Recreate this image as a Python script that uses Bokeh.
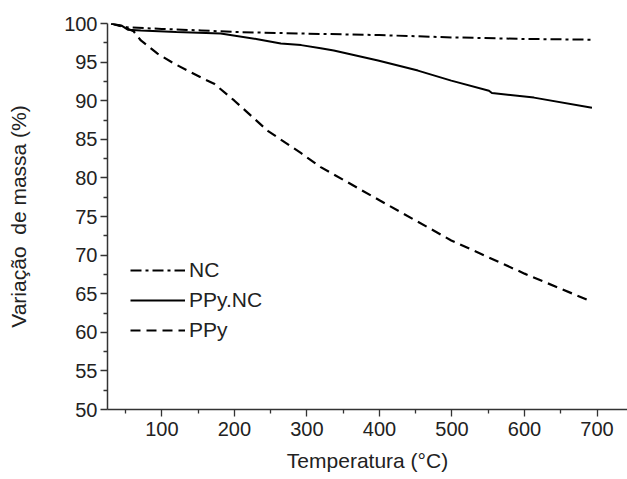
from bokeh.plotting import figure
from bokeh.models import FixedTicker, Legend, LegendItem, Range1d
from bokeh.embed import file_html
from bokeh.resources import INLINE

# Data
temp_nc = [30, 53, 100, 154, 200, 292, 400, 500, 600, 693]
mass_nc = [100.0, 99.5, 99.3, 99.1, 98.9, 98.7, 98.5, 98.2, 98.0, 97.9]

temp_ppync = [30, 45, 53, 71, 120, 181, 230, 264, 292, 319, 337, 398, 453, 499, 551, 555, 613, 693]
mass_ppync = [100.0, 99.7, 99.2, 99.1, 98.9, 98.7, 98.0, 97.4, 97.2, 96.8, 96.5, 95.2, 93.9, 92.6, 91.3, 91.0, 90.4, 89.1]

temp_ppy = [30, 45, 61, 71, 94, 117, 154, 172, 200, 246, 292, 319, 400, 499, 600, 692]
mass_ppy = [100.0, 99.6, 99.0, 97.8, 96.1, 94.8, 93.0, 92.2, 90.0, 86.1, 83.2, 81.4, 77.1, 71.9, 67.6, 64.0]

x_ticks = [100, 200, 300, 400, 500, 600, 700]
x_minor = [50, 150, 250, 350, 450, 550, 650]
y_ticks = [50, 55, 60, 65, 70, 75, 80, 85, 90, 95, 100]
y_minor = [52.5, 57.5, 62.5, 67.5, 72.5, 77.5, 82.5, 87.5, 92.5, 97.5]

FONT = "Liberation Sans"

p = figure(width=627, height=479, output_backend="svg", toolbar_location=None,
           x_range=Range1d(25, 742), y_range=Range1d(50, 100),
           min_border_left=107, min_border_right=0, min_border_top=23, min_border_bottom=70)
p.outline_line_color = None
p.xgrid.visible = False
p.ygrid.visible = False
p.background_fill_color = "white"

r_nc = p.line(temp_nc, mass_nc, line_color="black", line_width=2, line_dash="11 4 3 4")
r_pn = p.line(temp_ppync, mass_ppync, line_color="black", line_width=2)
r_pp = p.line(temp_ppy, mass_ppy, line_color="black", line_width=2.2, line_dash="10 6")

for ax, ticks, minor in [(p.xaxis[0], x_ticks, x_minor), (p.yaxis[0], y_ticks, y_minor)]:
    ax.ticker = FixedTicker(ticks=ticks, minor_ticks=minor)
    ax.axis_line_color = "#333333"
    ax.axis_line_width = 1.5
    ax.major_tick_line_color = "#333333"
    ax.minor_tick_line_color = "#333333"
    ax.major_tick_line_width = 1.3
    ax.minor_tick_line_width = 1.3
    ax.major_tick_out = 7
    ax.major_tick_in = 0
    ax.minor_tick_out = 4
    ax.minor_tick_in = 0
    ax.major_label_text_font = FONT
    ax.major_label_text_font_size = "20px"
    ax.major_label_text_color = "#222222"
    ax.axis_label_text_font = FONT
    ax.axis_label_text_font_size = "21px"
    ax.axis_label_text_font_style = "normal"
    ax.axis_label_text_color = "#222222"

p.xaxis.axis_label = "Temperatura (°C)"
p.yaxis.axis_label = "Variação\u00a0\u00a0de massa (%)"
p.xaxis.major_label_standoff = 5
p.xaxis.axis_label_standoff = 10
p.yaxis.major_label_standoff = 3
p.yaxis.axis_label_standoff = 31

legend = Legend(items=[LegendItem(label="NC", renderers=[r_nc]),
                       LegendItem(label="PPy.NC", renderers=[r_pn]),
                       LegendItem(label="PPy", renderers=[r_pp])],
                location=(23, 67), orientation="vertical",
                glyph_width=55, glyph_height=22, label_height=22,
                label_standoff=4, spacing=6, padding=2, margin=0,
                border_line_color=None, background_fill_alpha=0,
                label_text_font=FONT, label_text_font_size="21px",
                label_text_color="#222222")
p.add_layout(legend, "center")

open("out.html", "w").write(file_html(p, INLINE))
